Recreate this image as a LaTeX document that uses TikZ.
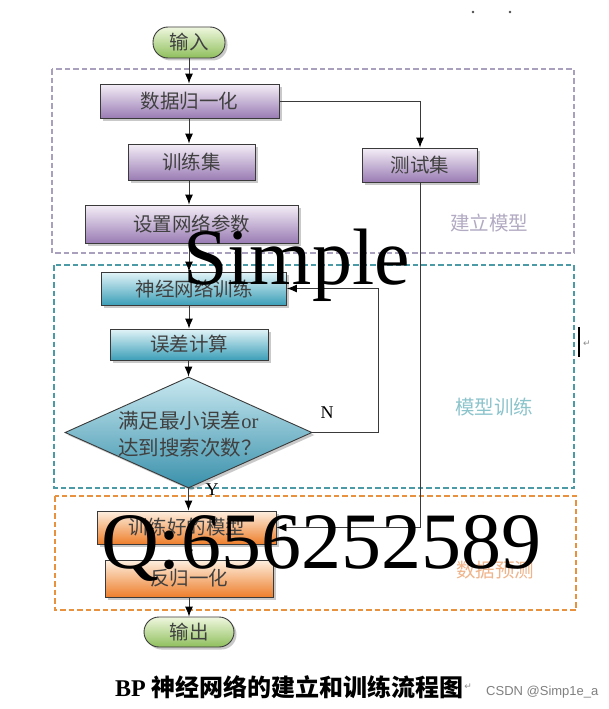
\documentclass[tikz,border=0pt]{standalone}
\usepackage{fontspec}
\setmainfont{Liberation Serif}
\newfontfamily\cjk{Noto Sans CJK SC}
\newfontfamily\symfont{DejaVu Sans}
\newfontfamily\csdnfont{Liberation Sans}
\usetikzlibrary{arrows.meta,shapes.geometric,shadows}
\definecolor{pTop}{HTML}{F4EEF7}
\definecolor{pBot}{HTML}{9A7CB4}
\definecolor{tTop}{HTML}{E2F4F8}
\definecolor{tBot}{HTML}{3C9FB8}
\definecolor{oTop}{HTML}{FDEFE0}
\definecolor{oBot}{HTML}{EE7F2C}
\definecolor{gTop}{HTML}{EFF7DF}
\definecolor{gBot}{HTML}{8FBF5C}
\definecolor{dTop}{HTML}{C8E8F0}
\definecolor{dBot}{HTML}{3990AB}
\definecolor{frP}{HTML}{A8A0BC}
\definecolor{frT}{HTML}{4B9AA6}
\definecolor{frO}{HTML}{E89240}
\definecolor{lbP}{HTML}{B2AAC2}
\definecolor{lbT}{HTML}{8CC4CC}
\definecolor{lbO}{HTML}{F0B48A}
\definecolor{edge}{HTML}{3A3A3A}
\definecolor{txt}{HTML}{404040}
\begin{document}
\begin{tikzpicture}[x=1pt,y=-1pt,
  box/.style={rectangle, draw=edge, line width=0.9pt, inner sep=0pt, text=txt,
    font=\cjk\fontsize{19.5}{22}\selectfont,
    drop shadow={shadow xshift=2.5pt, shadow yshift=-2.5pt, opacity=0.35, fill=black!60}},
  pbox/.style={box, top color=pTop, bottom color=pBot},
  tbox/.style={box, top color=tTop, bottom color=tBot},
  obox/.style={box, top color=oTop, bottom color=oBot},
  pill/.style={box, rounded corners=15pt, top color=gTop, bottom color=gBot},
  frame/.style={line width=1.8pt, dash pattern=on 5.5pt off 3pt},
  region/.style={font=\cjk\fontsize{19.5}{22}\selectfont, inner sep=0pt},
  arr/.style={draw=edge, line width=0.9pt, -{Latex[length=10pt,width=8pt,color=black]}},
  yn/.style={font=\fontsize{18}{20}\selectfont, inner sep=0pt},
  wm/.style={anchor=base west, inner sep=0pt, font=\fontsize{80}{80}\selectfont}
]
\useasboundingbox (0,0) rectangle (608,709);
\fill[white] (0,0) rectangle (608,709);

% region frames
\draw[frame, frP] (52,69) rectangle (574,253);
\draw[frame, frT] (54,265) rectangle (574,488);
\draw[frame, frO] (55,496) rectangle (576,610);
\node[region, text=lbP] (lab1) at (489,223) {建立模型};
\node[region, text=lbT] (lab2) at (494,407) {模型训练};
\node[region, text=lbO] (lab3) at (495,570) {数据预测};

% nodes
\node[pill, minimum width=72pt, minimum height=31pt] (in) at (189,42.5) {输入};
\node[pbox, minimum width=179pt, minimum height=34pt] (norm) at (189.5,101) {数据归一化};
\node[pbox, minimum width=127pt, minimum height=36pt] (trs) at (191.5,162) {训练集};
\node[pbox, minimum width=115pt, minimum height=34pt] (tes) at (420,165) {测试集};
\node[pbox, minimum width=213pt, minimum height=38pt] (par) at (191.5,224) {设置网络参数};
\node[tbox, minimum width=185pt, minimum height=33pt] (nn) at (194,288.5) {神经网络训练};
\node[tbox, minimum width=158pt, minimum height=31pt] (err) at (189,344.5) {误差计算};
\node[diamond, draw=edge, line width=0.9pt, inner sep=0pt, minimum width=247pt, minimum height=111pt,
  top color=dTop, bottom color=dBot,
  drop shadow={shadow xshift=2.5pt, shadow yshift=-2.5pt, opacity=0.35, fill=black!60}] (dec) at (188.5,432.5) {};
\node[align=left, inner sep=0pt, text=txt, font=\cjk\fontsize{20.5}{27}\selectfont] (dectext) at (190,434)
  {满足最小误差{\rmfamily or}\\达到搜索次数？};
\node[obox, minimum width=179pt, minimum height=33pt] (mod) at (186.5,527.5) {训练好的模型};
\node[obox, minimum width=168pt, minimum height=37pt] (den) at (189,578.5) {反归一化};
\node[pill, minimum width=90pt, minimum height=30pt] (out) at (189,632) {输出};

% connectors
\draw[arr] (in.south) -- (norm.north -| in.south);
\draw[arr] (norm.south -| in.south) -- (trs.north -| in.south);
\draw[arr] (norm.east) -| (tes.north);
\draw[arr] (trs.south -| in.south) -- (par.north -| in.south);
\draw[arr] (par.south -| in.south) -- (nn.north -| in.south);
\draw[arr] (nn.south -| in.south) -- (err.north -| in.south);
\draw[arr] (err.south -| dec.north) -- (dec.north);
\draw[arr] (dec.east) -- ++(66,0) |- (nn.east);
\draw[arr] (dec.south) -- (mod.north -| dec.south);
\draw[arr] (tes.south) |- (mod.east);
\draw[arr] (mod.south -| in.south) -- (den.north -| in.south);
\draw[arr] (den.south -| in.south) -- (out.north -| in.south);
\node[yn] (nlab) at (327,413) {N};
\node[yn] (ylab) at (212,490) {Y};

% caption and marks
\node[anchor=west, inner sep=0pt, font=\bfseries\fontsize{24}{27}\selectfont] (cap) at (115,687)
  {BP {\cjk\bfseries 神经网络的建立和训练流程图}};
\node[anchor=west, inner sep=0pt, text=black!45, font=\symfont\fontsize{9}{10}\selectfont] (ret1) at (cap.east) {↵};
\node[anchor=west, inner sep=0pt, text=black!50, font=\csdnfont\fontsize{13}{14}\selectfont] (csdn) at (486,692) {CSDN @Simp1e\_a};
\draw[line width=1.6pt, black] (579,327) -- (579,357);
\node[inner sep=0pt, text=black!45, font=\symfont\fontsize{9}{10}\selectfont] (ret2) at (587,344) {↵};
\fill[black!70] (473,12) circle (1.3pt);
\fill[black!70] (510,12) circle (1.3pt);

% watermarks
\node[wm] (wm1) at (183,284) {Simple};
\node[wm] (wm2) at (101,568) {Q:656252589};
\end{tikzpicture}
\end{document}
